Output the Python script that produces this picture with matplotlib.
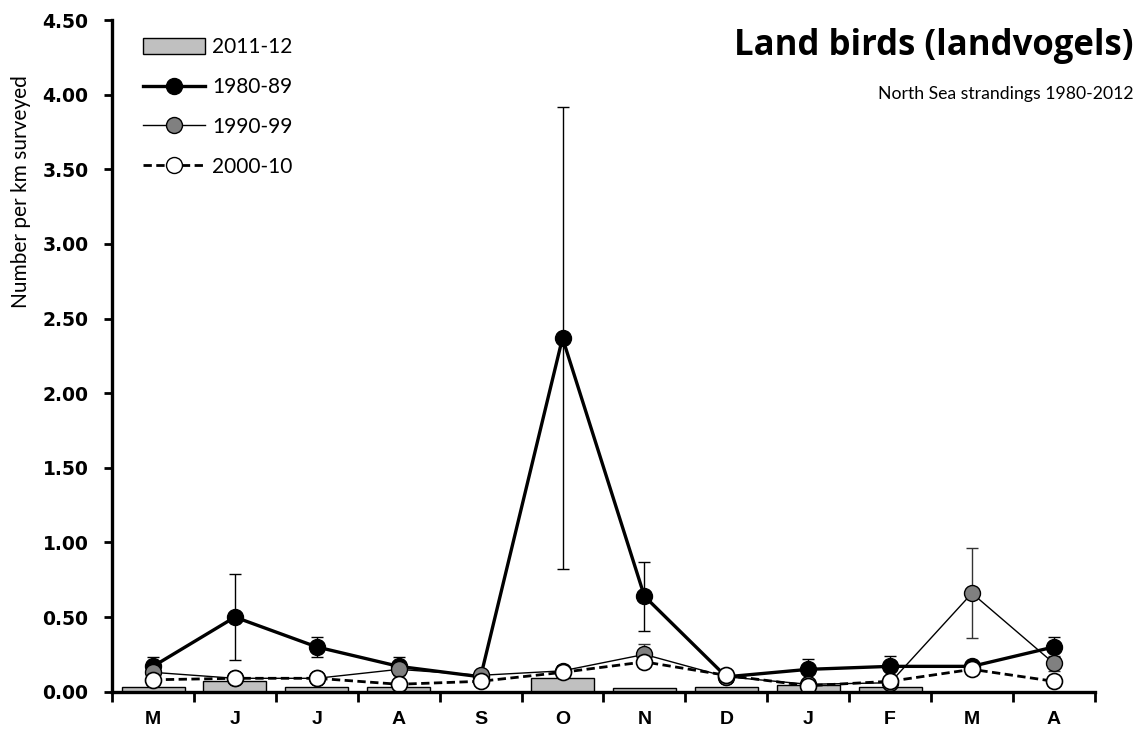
import numpy as np
import matplotlib
matplotlib.use("Agg")
import matplotlib.pyplot as plt
from matplotlib.patches import Patch
from matplotlib.lines import Line2D

# =====================================================
# DATA
# =====================================================

months = ["M", "J", "J", "A", "S", "O", "N", "D", "J", "F", "M", "A"]

bars_2011 = [0.035, 0.07, 0.035, 0.035, 0.0, 0.094, 0.025, 0.035, 0.045, 0.035, 0.0, 0.0]

s1980 = [0.17, 0.50, 0.30, 0.17, 0.10, 2.37, 0.64, 0.10, 0.15, 0.17, 0.17, 0.30]
e1980 = [0.06, 0.29, 0.07, 0.06, 0.03, 1.55, 0.23, 0.00, 0.07, 0.07, 0.02, 0.07]

s1990 = [0.13, 0.09, 0.09, 0.15, 0.11, 0.14, 0.25, 0.10, 0.05, 0.06, 0.66, 0.19]
e1990 = [0.03, 0.00, 0.00, 0.04, 0.02, 0.02, 0.07, 0.02, 0.02, 0.02, 0.30, 0.05]

s2000 = [0.08, 0.09, 0.09, 0.05, 0.07, 0.13, 0.20, 0.11, 0.04, 0.07, 0.15, 0.07]
e2000 = [0.02, 0.01, 0.01, 0.01, 0.01, 0.04, 0.03, 0.03, 0.01, 0.01, 0.02, 0.01]

yticks = [0.0, 0.5, 1.0, 1.5, 2.0, 2.5, 3.0, 3.5, 4.0, 4.5]

# =====================================================
# FIGURE
# =====================================================

fig = plt.figure(figsize=(11.44, 7.43), dpi=100)
ax = fig.add_axes([0.098, 0.069, 0.859, 0.904])

x = np.arange(len(months))
ms = 11.5

ax.bar(x, bars_2011, width=0.77, color="#c0c0c0", edgecolor="black",
       linewidth=1.0, zorder=2)

ax.errorbar(x, s1980, yerr=e1980, color="black", lw=2.4, marker="o",
            ms=ms, mfc="black", mec="black", ecolor="black", elinewidth=1.0,
            capsize=4, capthick=1.0, zorder=3)
ax.errorbar(x, s1990, yerr=e1990, color="black", lw=1.0, marker="o",
            ms=ms, mfc="#808080", mec="black", mew=1.0, ecolor="#333333",
            elinewidth=1.0, capsize=4, capthick=1.0, zorder=4)
ax.errorbar(x, s2000, yerr=e2000, color="black", lw=2.0, ls=(0, (3, 1.6)),
            marker="o", ms=ms, mfc="white", mec="black", mew=1.2,
            ecolor="black", elinewidth=1.0, capsize=4, capthick=1.0, zorder=5)

# =====================================================
# SUMBU
# =====================================================

ax.set_xlim(-0.5, len(months) - 0.5)
ax.set_ylim(0, 4.5)
ax.spines["top"].set_visible(False)
ax.spines["right"].set_visible(False)
ax.spines["left"].set_linewidth(2.4)
ax.spines["bottom"].set_linewidth(2.4)
ax.spines["left"].set_zorder(6)
ax.spines["bottom"].set_zorder(6)

ax.set_yticks(yticks)
ax.set_yticklabels([f"{v:.2f}" for v in yticks], fontfamily="DejaVu Sans",
                   fontweight="bold", fontsize=13.5)
ax.tick_params(axis="y", direction="out", length=6, width=2, pad=11)

ax.set_xticks(np.arange(-0.5, len(months)), labels=[""] * (len(months) + 1))
ax.tick_params(axis="x", which="major", direction="out", length=7, width=2)
ax.set_xticks(x, labels=months, minor=True)
ax.tick_params(axis="x", which="minor", length=0, pad=14)
for lab in ax.get_xticklabels(minor=True):
    lab.set_fontfamily("Liberation Sans")
    lab.set_fontweight("bold")
    lab.set_fontsize(14)

ax.set_ylabel("Number per km surveyed", fontfamily="Lato", fontsize=15)
ax.yaxis.set_label_coords(-0.083, 0.745)

# =====================================================
# JUDUL
# =====================================================

fig.text(0.991, 0.926, "Land birds (landvogels)", ha="right", va="baseline",
         fontfamily="Open Sans", fontweight="bold", fontsize=25)
fig.text(0.991, 0.867, "North Sea strandings 1980-2012", ha="right",
         va="baseline", fontfamily="Lato", fontsize=12.7)

# =====================================================
# LEGENDA
# =====================================================

handles = [
    Patch(facecolor="#c0c0c0", edgecolor="black", linewidth=1.0),
    Line2D([], [], color="black", lw=2.4, marker="o", ms=ms, mfc="black",
           mec="black"),
    Line2D([], [], color="black", lw=1.0, marker="o", ms=ms, mfc="#808080",
           mec="black"),
    Line2D([], [], color="black", lw=2.0, ls=(0, (3, 1.6)), marker="o",
           ms=ms, mfc="white", mec="black"),
]
labels = ["2011-12", "1980-89", "1990-99", "2000-10"]
leg = ax.legend(handles, labels, loc="upper left", bbox_to_anchor=(0.012, 1.002),
                frameon=False, handlelength=3.0, handleheight=0.8,
                labelspacing=0.95, handletextpad=0.34,
                prop={"family": "Lato", "size": 15})

fig.savefig("out.png", dpi=100)
